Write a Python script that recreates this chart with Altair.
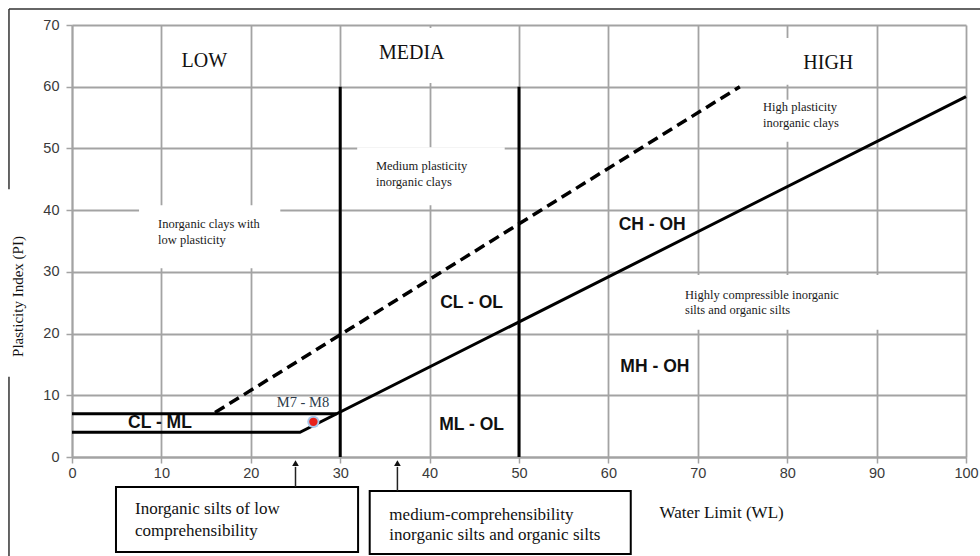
import altair as alt
import pandas as pd

# Casagrande plasticity chart: water (liquid) limit WL against plasticity index PI

# Boundary lines
a_line_wl = [0, 25.5, 100]
a_line_pi = [4, 4, 58.4]
clml_top_wl = [0, 29.6]
clml_top_pi = [7, 7]
u_line_wl = [16, 74.7]
u_line_pi = [7.2, 60]
limit_wl = [30, 50]
limit_pi_top = [60, 60]

# Tested sample
sample_name = ["M7 - M8"]
sample_wl = [27.0]
sample_pi = [5.7]

# Axis ticks
x_ticks = [0, 10, 20, 30, 40, 50, 60, 70, 80, 90, 100]
y_ticks = [0, 10, 20, 30, 40, 50, 60, 70]

# Zone texts
zone_titles = ["LOW", "MEDIA", "HIGH"]
group_names = ["CL - ML", "CL - OL", "ML - OL", "CH - OH", "MH - OH"]
descriptions = [
    ["Inorganic clays with", "low plasticity"],
    ["Medium plasticity", "inorganic clays"],
    ["High plasticity", "inorganic clays"],
    ["Highly compressible inorganic", "silts and organic silts"],
]
box_texts = [
    ["Inorganic silts of low", "comprehensibility"],
    ["medium-comprehensibility", "inorganic silts and organic silts"],
]

# ---- layout (data units) ----
zone_pos = [(14.8, 64.2), (38.0, 65.4), (84.6, 63.9)]
group_pos = [(9.84, 5.5), (44.7, 25.0), (44.7, 5.2), (64.9, 37.6), (65.2, 14.6)]
desc_pos = [(9.62, 37.76, 35.16), (34.0, 47.16, 44.56), (77.3, 56.72, 54.12), (68.57, 26.25, 23.82)]
desc_bg = [(7.5, 23.3, 30.6, 40.8), (31.9, 48.4, 40.8, 50.2), (76.4, 87.0, 51.1, 57.9),
           (68.0, 96.5, 20.6, 29.5), (30.5, 49.6, 60.6, 69.5), (73.0, 88.0, 60.3, 67.9)]
boxes = [(4.92, 32.0, -15.4, -4.86), (33.3, 62.5, -15.7, -5.5)]
box_text_pos = [(7.05, -8.5, -12.0), (35.5, -9.4, -12.64)]
arrows = [(25.0, -4.86), (36.4, -5.5)]
label_pos = (25.84, 8.75)

XS = alt.Scale(domain=[0, 100], nice=False, zero=False)
YS = alt.Scale(domain=[0, 70], nice=False, zero=False)
GRID = "#a3a3a3"

x_axis = alt.Axis(
    values=x_ticks, format="d", grid=True, gridColor=GRID, gridWidth=1.8,
    domainColor=GRID, domainWidth=1.8, tickColor=GRID, tickWidth=1.5, tickSize=6,
    labelFont="Liberation Sans", labelFontSize=14.5, labelColor="#3a3a3a", labelPadding=3,
    labelFlush=False, labelOverlap=False,
    title="Water Limit (WL)", titleFont="Liberation Serif", titleFontSize=17,
    titleFontWeight="normal", titleColor="#111", titleX=587, titleY=55,
    titleAlign="left", titleBaseline="middle",
)
y_axis = alt.Axis(
    values=y_ticks, format="d", grid=True, gridColor=GRID, gridWidth=1.8,
    domainColor=GRID, domainWidth=1.8, tickColor=GRID, tickWidth=1.5, tickSize=6,
    labelFont="Liberation Sans", labelFontSize=14.5, labelColor="#3a3a3a", labelPadding=7,
    labelFlush=False, labelOverlap=False,
    title="Plasticity Index (PI)", titleFont="Liberation Serif", titleFontSize=15,
    titleFontWeight="normal", titleColor="#111", titleX=-55, titleY=271,
    titleAlign="center", titleBaseline="middle",
)

X = alt.X("x:Q", scale=XS, axis=x_axis)
Y = alt.Y("y:Q", scale=YS, axis=y_axis)

# white patches behind the zone descriptions
bg_df = pd.DataFrame([{"x": a, "x2": b, "y": c, "y2": d} for a, b, c, d in desc_bg])
bg = alt.Chart(bg_df).mark_rect(fill="white").encode(x=X, x2="x2:Q", y=Y, y2="y2:Q")

# solid boundaries (A-line with CL-ML band)
solid_rows = []
for i, (w, p) in enumerate(zip(a_line_wl, a_line_pi)):
    solid_rows.append({"x": w, "y": p, "seg": "a", "o": i})
for i, (w, p) in enumerate(zip(clml_top_wl, clml_top_pi)):
    solid_rows.append({"x": w, "y": p, "seg": "b", "o": i})
solid = alt.Chart(pd.DataFrame(solid_rows)).mark_line(
    color="black", strokeWidth=3, strokeJoin="miter"
).encode(x=X, y=Y, detail="seg:N", order="o:Q")

u_df = pd.DataFrame({"x": u_line_wl, "y": u_line_pi})
uline = alt.Chart(u_df).mark_line(color="black", strokeWidth=3.5, strokeDash=[11, 6]).encode(x=X, y=Y)

lim_df = pd.DataFrame({"x": limit_wl, "y": [0, 0], "y2": limit_pi_top})
limits = alt.Chart(lim_df).mark_rule(color="black", strokeWidth=3).encode(x=X, y=Y, y2="y2:Q")

# sample point
s_df = pd.DataFrame({"x": sample_wl, "y": sample_pi, "name": sample_name})
halo = alt.Chart(s_df).mark_point(filled=True, color="#a8c8ec", size=150, opacity=1).encode(x=X, y=Y)
dot = alt.Chart(s_df).mark_point(filled=True, color="#e8211b", size=70, opacity=1).encode(x=X, y=Y)
s_lab_df = pd.DataFrame({"x": [label_pos[0]], "y": [label_pos[1]], "t": sample_name})
s_lab = alt.Chart(s_lab_df).mark_text(
    font="Liberation Serif", fontSize=14.5, color="#2c3a4a"
).encode(x=X, y=Y, text="t:N")

# zone titles
zt_df = pd.DataFrame({"x": [p[0] for p in zone_pos], "y": [p[1] for p in zone_pos], "t": zone_titles})
zt = alt.Chart(zt_df).mark_text(font="Liberation Serif", fontSize=20, color="#111").encode(x=X, y=Y, text="t:N")

# soil group symbols
g_df = pd.DataFrame({"x": [p[0] for p in group_pos], "y": [p[1] for p in group_pos], "t": group_names})
groups = alt.Chart(g_df).mark_text(
    font="Liberation Sans", fontSize=17.5, fontWeight="bold", color="#111"
).encode(x=X, y=Y, text="t:N")

# descriptions
d_rows = []
for (x0, y1, y2), lines in zip(desc_pos, descriptions):
    d_rows.append({"x": x0, "y": y1, "t": lines[0]})
    d_rows.append({"x": x0, "y": y2, "t": lines[1]})
desc = alt.Chart(pd.DataFrame(d_rows)).mark_text(
    font="Liberation Serif", fontSize=12.5, color="#1a1a1a", align="left"
).encode(x=X, y=Y, text="t:N")

# callout boxes below the axis
b_df = pd.DataFrame([{"x": a, "x2": b, "y": c, "y2": d} for a, b, c, d in boxes])
bx = alt.Chart(b_df).mark_rect(fill="white", stroke="black", strokeWidth=2).encode(
    x=X, x2="x2:Q", y=Y, y2="y2:Q")
bt_rows = []
for (x0, y1, y2), lines in zip(box_text_pos, box_texts):
    bt_rows.append({"x": x0, "y": y1, "t": lines[0]})
    bt_rows.append({"x": x0, "y": y2, "t": lines[1]})
bt = alt.Chart(pd.DataFrame(bt_rows)).mark_text(
    font="Liberation Serif", fontSize=17, color="#111", align="left"
).encode(x=X, y=Y, text="t:N")

ar_df = pd.DataFrame([{"x": a, "y": b, "y2": -1.6} for a, b in arrows])
ar_shaft = alt.Chart(ar_df).mark_rule(color="#222", strokeWidth=1.5).encode(x=X, y=Y, y2="y2:Q")
ah_df = pd.DataFrame([{"x": a, "y": -1.0} for a, _ in arrows])
ar_head = alt.Chart(ah_df).mark_point(
    shape="triangle-up", filled=True, color="#111", size=45, opacity=1
).encode(x=X, y=Y)

# outer frame
fr_df = pd.DataFrame([
    {"x": -7.05, "x2": 101.6, "y": 72.6, "y2": 72.6},
    {"x": -7.05, "x2": -7.05, "y": 72.6, "y2": 43.4},
    {"x": -7.05, "x2": -7.05, "y": 13.0, "y2": -16.1},
])
frame = alt.Chart(fr_df).mark_rule(color="#333", strokeWidth=1.5).encode(
    x=X, x2="x2:Q", y=Y, y2="y2:Q")

chart = alt.layer(
    bg, solid, uline, limits, halo, dot, s_lab, zt, groups, desc,
    bx, bt, ar_shaft, ar_head, frame
).properties(
    width=894, height=432,
    autosize=alt.AutoSizeParams(type="none"),
    padding={"left": 72, "top": 25, "right": 14, "bottom": 99},
    background="white",
).configure_view(stroke=None)

chart.save("out.html", embed_options={"renderer": "svg", "actions": False})
